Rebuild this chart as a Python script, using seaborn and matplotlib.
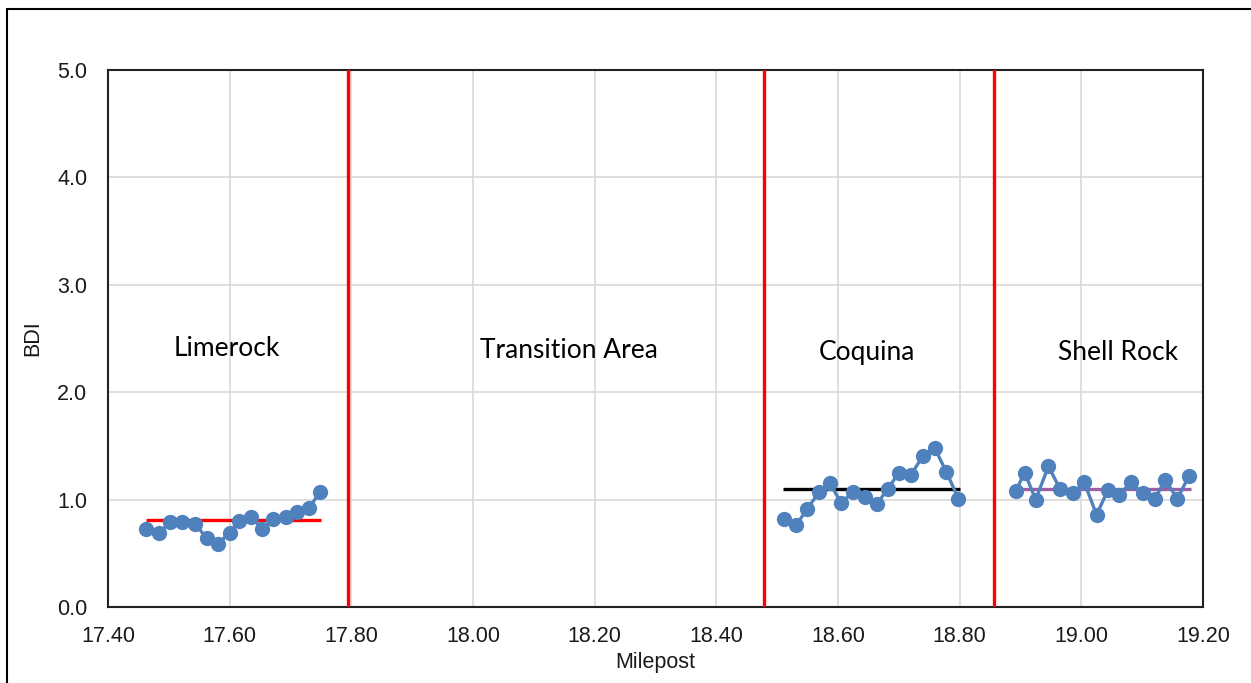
import pandas as pd
import seaborn as sns
from matplotlib import pyplot as plt
from matplotlib.patches import Rectangle

# BDI readings per section (milepost, value)
limerock_mp = [17.463, 17.484, 17.502, 17.521, 17.543, 17.563, 17.581, 17.600,
               17.616, 17.635, 17.654, 17.672, 17.692, 17.711, 17.730, 17.749]
limerock_bdi = [0.73, 0.69, 0.79, 0.79, 0.77, 0.64, 0.59, 0.69,
                0.80, 0.84, 0.73, 0.82, 0.84, 0.88, 0.92, 1.07]

coquina_mp = [18.512, 18.531, 18.549, 18.569, 18.587, 18.605, 18.625, 18.645,
              18.664, 18.682, 18.700, 18.720, 18.740, 18.759, 18.778, 18.798]
coquina_bdi = [0.82, 0.76, 0.91, 1.07, 1.15, 0.97, 1.07, 1.02,
               0.96, 1.10, 1.25, 1.23, 1.41, 1.48, 1.26, 1.01]

shell_mp = [18.892, 18.907, 18.925, 18.946, 18.965, 18.986, 19.005, 19.025,
            19.044, 19.062, 19.081, 19.101, 19.121, 19.138, 19.158, 19.177]
shell_bdi = [1.08, 1.25, 1.00, 1.31, 1.10, 1.06, 1.16, 0.86,
             1.09, 1.04, 1.16, 1.06, 1.01, 1.18, 1.01, 1.22]

# section averages: level, start, end, colour
avg_level = [0.81, 1.10, 1.10]
avg_start = [17.463, 18.510, 18.888]
avg_end = [17.750, 18.800, 19.180]
avg_colors = ['#FF0000', '#000000', '#9B5FA6']

# section boundaries and names
boundaries = [17.794, 18.479, 18.856]
section_names = ['Limerock', 'Transition Area', 'Coquina', 'Shell Rock']
section_x = [17.596, 18.157, 18.648, 19.060]
section_y = [2.41, 2.39, 2.37, 2.37]

x_ticks = [17.40, 17.60, 17.80, 18.00, 18.20, 18.40, 18.60, 18.80, 19.00, 19.20]
y_ticks = [0.0, 1.0, 2.0, 3.0, 4.0, 5.0]

sns.set_theme(style='whitegrid')
plt.rcParams['font.family'] = ['Liberation Sans', 'DejaVu Sans']

df = pd.concat([
    pd.DataFrame({'Milepost': limerock_mp, 'BDI': limerock_bdi, 'Section': 'Limerock'}),
    pd.DataFrame({'Milepost': coquina_mp, 'BDI': coquina_bdi, 'Section': 'Coquina'}),
    pd.DataFrame({'Milepost': shell_mp, 'BDI': shell_bdi, 'Section': 'Shell Rock'}),
])

fig = plt.figure(figsize=(12.51, 6.83), dpi=100)
ax = fig.add_axes([0.0863, 0.1113, 0.8753, 0.7862])

# outer frame of the original figure
fig.patches.append(Rectangle((0.0056, -0.05), 1.1, 0.0368 + 1.0, transform=fig.transFigure,
                             fill=False, edgecolor='#000000', linewidth=1.5))

# average lines (behind the data)
for lvl, x0, x1, c in zip(avg_level, avg_start, avg_end, avg_colors):
    ax.hlines(lvl, x0, x1, colors=c, linewidth=2.4, zorder=2)

sns.lineplot(data=df, x='Milepost', y='BDI', units='Section', estimator=None,
             color='#4F81BD', marker='o', markersize=11, markeredgewidth=0,
             linewidth=2.4, ax=ax, zorder=3, legend=False)

for b in boundaries:
    ax.axvline(b, color='#FF0000', linewidth=2.4, zorder=4)

for name, tx, ty in zip(section_names, section_x, section_y):
    ax.text(tx, ty, name, ha='center', va='center', fontsize=19,
            family=['Lato', 'DejaVu Sans'], color='#000000')

ax.set_xlim(17.40, 19.20)
ax.set_ylim(0, 5.0)
ax.set_xticks(x_ticks)
ax.set_xticklabels([f'{t:.2f}' for t in x_ticks])
ax.set_yticks(y_ticks)
ax.set_yticklabels([f'{t:.1f}' for t in y_ticks])
ax.tick_params(labelsize=15.5, colors='#1a1a1a', length=0)
ax.tick_params(axis='x', pad=14)
ax.tick_params(axis='y', pad=15)
ax.grid(True, color='#D9D9D9', linewidth=1.2)
ax.set_xlabel('Milepost', fontsize=15.5, color='#1a1a1a', labelpad=3)
ax.set_ylabel('BDI', fontsize=15.5, color='#1a1a1a', labelpad=10)
for s in ax.spines.values():
    s.set_color('#222222')
    s.set_linewidth(1.5)

fig.savefig('out.png', dpi=100)
